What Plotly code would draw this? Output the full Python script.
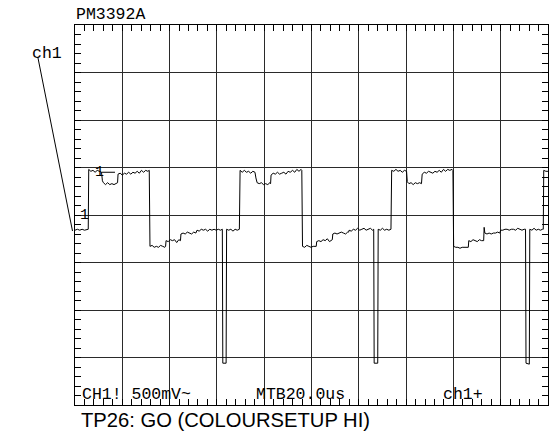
import plotly.graph_objects as go

# ---- data (time in microseconds, voltage in volts) ----
t_sweep1 = [0, 1.0, 2.0, 3.0, 4.0, 5.0, 5.6,
            5.8, 6.7, 7.6, 8.5, 9.4, 10.3, 11.2,
            11.6, 12.0, 12.9, 13.8, 14.7, 15.6, 16.5, 17.4, 18.0,
            18.2, 19.1, 20.0, 20.9, 21.8, 22.7, 23.6, 24.5, 25.4, 26.3, 27.2, 28.1, 29.0, 29.9, 30.8, 31.4,
            31.7, 32.6, 33.5, 34.4, 35.3, 36.2, 37.1, 38.0, 38.3,
            38.5, 39.4, 40.3, 41.2, 42.1, 43.0, 43.9, 44.6,
            44.8, 45.7, 46.6, 47.5, 48.4, 49.3, 50.2, 51.1,
            51.6, 52.5, 53.4, 54.3, 55.2, 56.1, 57.0, 57.9, 58.8, 59.7, 60.6, 61.5, 62.3,
            62.5, 63.9,
            64.1, 65.0, 65.9, 66.8, 67.7, 68.6, 69.5]
v_sweep1 = [-0.16, -0.15, -0.16, -0.15, -0.16, -0.15, -0.15,
            0.48, 0.46, 0.47, 0.45, 0.47, 0.46, 0.45,
            0.36, 0.34, 0.32, 0.34, 0.32, 0.33, 0.32, 0.33, 0.34,
            0.43, 0.44, 0.42, 0.44, 0.43, 0.45, 0.43, 0.45, 0.44, 0.46, 0.44, 0.47, 0.45, 0.47, 0.46, 0.47,
            -0.33, -0.32, -0.34, -0.33, -0.34, -0.32, -0.33, -0.34, -0.33,
            -0.27, -0.28, -0.26, -0.27, -0.26, -0.29, -0.26, -0.27,
            -0.20, -0.19, -0.20, -0.18, -0.19, -0.20, -0.18, -0.19,
            -0.16, -0.17, -0.15, -0.16, -0.15, -0.17, -0.15, -0.16, -0.15, -0.16, -0.15, -0.16, -0.15,
            -1.56, -1.56,
            -0.15, -0.16, -0.15, -0.17, -0.15, -0.16, -0.15]

t_sweep2 = [69.8, 70.7, 71.6, 72.5, 73.4, 74.3, 75.2, 76.1,
            76.5, 77.0, 77.9, 78.8, 79.7, 80.6, 81.5, 82.4, 82.7,
            82.9, 83.8, 84.7, 85.6, 86.5, 87.4, 88.3, 89.2, 90.1, 91.0, 92.0, 92.9, 93.8, 94.7, 95.6, 95.9,
            96.2, 97.1, 98.0, 98.9, 99.8, 100.7, 101.6, 102.0,
            102.2, 103.1, 104.0, 104.9, 105.8, 106.7, 107.6, 108.5, 108.8,
            109.0, 109.9, 110.8, 111.7, 112.6, 113.5, 114.4, 115.3, 115.7,
            115.9, 116.8, 117.7, 118.6, 119.5, 120.4, 121.3, 122.2, 123.1, 124.0, 124.9, 125.8, 126.3,
            126.5, 128.0,
            128.2, 129.1, 130.0, 130.9, 131.8, 132.7, 133.6]
v_sweep2 = [0.47, 0.45, 0.47, 0.45, 0.46, 0.44, 0.46, 0.45,
            0.39, 0.34, 0.33, 0.34, 0.32, 0.33, 0.32, 0.34, 0.33,
            0.42, 0.44, 0.43, 0.45, 0.43, 0.44, 0.45, 0.43, 0.46, 0.45, 0.47, 0.45, 0.48, 0.46, 0.48, 0.47,
            -0.33, -0.34, -0.32, -0.33, -0.34, -0.33, -0.33, -0.33,
            -0.28, -0.27, -0.28, -0.26, -0.27, -0.25, -0.28, -0.26, -0.26,
            -0.20, -0.19, -0.20, -0.19, -0.18, -0.19, -0.20, -0.18, -0.18,
            -0.16, -0.17, -0.15, -0.16, -0.14, -0.16, -0.15, -0.14, -0.16, -0.15, -0.14, -0.16, -0.15,
            -1.56, -1.56,
            -0.15, -0.16, -0.14, -0.16, -0.15, -0.16, -0.15]

t_sweep3 = [133.9, 134.8, 135.7, 136.6, 137.5, 138.4, 139.3, 140.2,
            140.5, 141.2, 142.1, 143.0, 143.9, 144.8, 145.7, 146.5,
            146.8, 147.7, 148.6, 149.5, 150.4, 151.3, 152.2, 153.1, 154.0, 154.9, 155.8, 156.7, 157.6, 158.5, 159.4, 159.8,
            160.1, 161.0, 161.9, 162.8, 163.7, 164.6, 165.5, 166.3,
            166.5, 167.4, 168.3, 169.2, 170.1, 171.0, 171.9, 172.8,
            173.0, 173.3, 174.2, 175.1, 176.0, 176.9, 177.8, 178.7, 179.6,
            180.0, 180.9, 181.8, 182.7, 183.6, 184.5, 185.4, 186.3, 187.2, 188.1, 189.0, 189.9, 190.5,
            190.7, 192.1,
            192.3, 193.2, 194.1, 195.0, 195.9, 196.8, 197.7, 198.0,
            198.2, 199.1, 200.0]
v_sweep3 = [0.47, 0.46, 0.48, 0.46, 0.47, 0.45, 0.47, 0.46,
            0.35, 0.33, 0.34, 0.32, 0.34, 0.33, 0.34, 0.33,
            0.43, 0.45, 0.44, 0.46, 0.45, 0.44, 0.46, 0.45, 0.47, 0.45, 0.48, 0.46, 0.48, 0.47, 0.48, 0.47,
            -0.33, -0.34, -0.34, -0.35, -0.34, -0.34, -0.34, -0.34,
            -0.27, -0.28, -0.26, -0.27, -0.28, -0.26, -0.27, -0.27,
            -0.13, -0.19, -0.20, -0.19, -0.20, -0.19, -0.19, -0.18, -0.19,
            -0.16, -0.16, -0.15, -0.15, -0.16, -0.15, -0.15, -0.16, -0.14, -0.15, -0.16, -0.15, -0.15,
            -1.56, -1.57,
            -0.15, -0.16, -0.14, -0.16, -0.15, -0.16, -0.15, -0.15,
            0.47, 0.46, 0.46]

time_per_div_us = 20
volts_per_div = 0.5
n_div_x = 10
n_div_y = 8
subdivisions = 5
ground_level_v = 0.0
trigger_level_v = 0.45

title_text = "PM3392A"
channel_label = "ch1"
bottom_labels = ["CH1! 500mV~", "MTB20.0us", "ch1+"]
caption_text = "TP26: GO (COLOURSETUP HI)"
marker_text = "1"

# ---- figure geometry ----
W, H = 551, 434
L, R, T, B = 75, 548, 25, 405

def paper(xp, yp):
    return (xp - L) / (R - L), (B - yp) / (B - T)

t_all = t_sweep1 + t_sweep2 + t_sweep3
v_all = v_sweep1 + v_sweep2 + v_sweep3

x_range = [0, time_per_div_us * n_div_x]
y_range = [-volts_per_div * n_div_y / 2, volts_per_div * n_div_y / 2]

fig = go.Figure()
# empty trace so the fine-tick overlay axes get drawn
fig.add_trace(go.Scatter(x=[None], y=[None], xaxis="x2", yaxis="y2", mode="lines",
                         hoverinfo="skip", showlegend=False))
fig.add_trace(go.Scatter(x=t_all, y=v_all, mode="lines",
                         line=dict(color="black", width=1), hoverinfo="skip",
                         showlegend=False))

mono = "Liberation Mono, Courier New, monospace"
grid_col = "#2a2a2a"

main_axis = dict(showgrid=True, gridcolor=grid_col, gridwidth=1, zeroline=False,
                 showline=True, linecolor="black", linewidth=1, mirror=True,
                 ticks="", showticklabels=False, fixedrange=True)
tick_axis = dict(showgrid=False, zeroline=False, showline=False,
                 ticks="inside", ticklen=6, tickwidth=1, tickcolor="black",
                 mirror="ticks", showticklabels=False, fixedrange=True)

fig.update_layout(
    xaxis=dict(range=x_range, dtick=time_per_div_us, **main_axis),
    yaxis=dict(range=y_range, dtick=volts_per_div, **main_axis),
    xaxis2=dict(range=x_range, dtick=time_per_div_us / subdivisions,
                overlaying="x", anchor="y2", side="bottom", **tick_axis),
    yaxis2=dict(range=y_range, dtick=volts_per_div / subdivisions,
                overlaying="y", anchor="x2", side="left", **tick_axis),
)

annotations = []
def add_text(text, xp, yp, size, family=mono, anchor="left"):
    x, y = paper(xp, yp)
    annotations.append(dict(text=text, x=x, y=y, xref="paper", yref="paper",
                            xanchor=anchor, yanchor="middle", showarrow=False,
                            font=dict(family=family, size=size, color="black")))

add_text(title_text, 74, 14, 16.5)
add_text(channel_label, 29.5, 53, 16.5)
add_text(bottom_labels[0], 79.5, 394, 16.5)
add_text(bottom_labels[1], 254, 394, 16.5)
add_text(bottom_labels[2], 440.5, 394, 16.5)
add_text(caption_text, 79, 420, 20.2, family="Liberation Sans, Arial, sans-serif")

# channel markers "1" (ground level and trigger level)
annotations.append(dict(text=marker_text, x=4.2, y=ground_level_v, xref="x", yref="y",
                        xanchor="center", yanchor="middle", showarrow=False,
                        font=dict(family=mono, size=15, color="black")))
annotations.append(dict(text=marker_text, x=10.5, y=trigger_level_v, xref="x", yref="y",
                        xanchor="center", yanchor="middle", showarrow=False,
                        font=dict(family=mono, size=15, color="black")))

shapes = []
x0, y0 = paper(38, 58)
x1, y1 = paper(72.5, 231)
shapes.append(dict(type="line", xref="paper", yref="paper", x0=x0, y0=y0, x1=x1, y1=y1,
                   line=dict(color="black", width=1)))
shapes.append(dict(type="line", xref="x", yref="y", x0=11.2, x1=16.9,
                   y0=trigger_level_v, y1=trigger_level_v,
                   line=dict(color="black", width=1)))

fig.update_layout(width=W, height=H, margin=dict(l=L, r=W - R, t=T, b=H - B, pad=0),
                  paper_bgcolor="white", plot_bgcolor="white",
                  annotations=annotations, shapes=shapes, showlegend=False)

fig.write_html("out.html", config={"displayModeBar": False},
               post_script="document.body.style.margin='0';document.body.style.padding='0';")
